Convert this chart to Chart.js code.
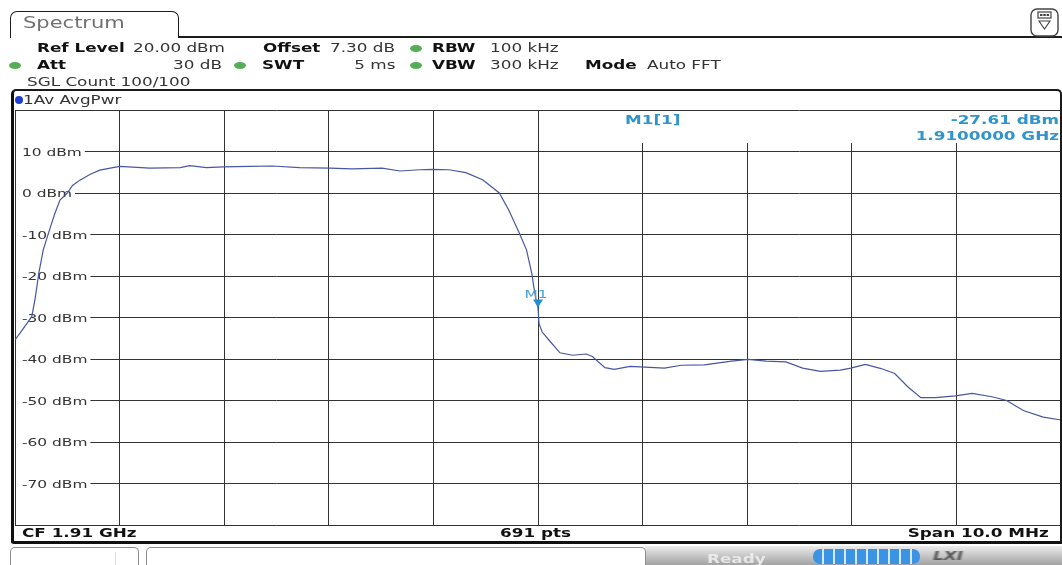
<!DOCTYPE html>
<html>
<head>
<meta charset="utf-8">
<script src="https://cdn.jsdelivr.net/npm/chart.js@4.4.1/dist/chart.umd.min.js"></script>
<style>
  html, body { margin: 0; padding: 0; background: #fff; }
  body { width: 1062px; height: 565px; position: relative; overflow: hidden; font-family: "DejaVu Sans", sans-serif; }
  #plot { position: absolute; left: 0; top: 0; }
  .t { position: absolute; white-space: nowrap; line-height: 1; font-size: 12px; color: #333; transform-origin: 0 50%; transform: scaleX(1.4); z-index: 3; }
  .t.r { transform-origin: 100% 50%; }
  .b { font-weight: bold; color: #111; }
  .dot { position: absolute; width: 12px; height: 7px; border-radius: 50%; background: #55ad55; z-index: 3; }
  #tab { position: absolute; left: 10px; top: 11px; width: 167px; height: 26px; border: 1.6px solid #1c1c1c; border-bottom: none; border-radius: 7px 7px 0 0; z-index: 2; }
  #tabline { position: absolute; left: 178px; top: 36px; width: 884px; height: 2px; background: #1c1c1c; z-index: 2; }
  #frame { position: absolute; left: 11px; top: 89px; width: 1046px; height: 450px; border-top: 2px solid #1a1a1a; border-left: 3px solid #111; border-bottom: 3px solid #111; border-right: 2px solid #1a1a1a; border-radius: 5px 5px 0 3px; z-index: 2; pointer-events: none; }
  #icon { position: absolute; left: 1030px; top: 8px; z-index: 3; }
  .box { position: absolute; top: 547px; height: 20px; border: 1px solid #8c8c8c; border-bottom: none; border-radius: 5px 5px 0 0; background: #fff; z-index: 2; }
  #status { position: absolute; left: 645px; top: 546px; width: 417px; height: 19px; background: linear-gradient(to bottom, #ececec, #a2a2a2); z-index: 1; }
  #busy { position: absolute; left: 813px; top: 549px; width: 107px; height: 15px; border-radius: 7px; background: repeating-linear-gradient(to right, #3a94e3 0 9.5px, #d8e8f8 9.5px 11px); z-index: 3; }
</style>
</head>
<body>
<canvas id="plot" width="1062" height="565"></canvas>

<div id="tab"></div>
<div id="tabline"></div>
<div id="frame"></div>
<svg id="icon" width="30" height="29" viewBox="0 0 30 29">
  <rect x="1" y="1" width="27" height="27" rx="6" ry="6" fill="#fff" stroke="#444" stroke-width="1.4"/>
  <rect x="8" y="4" width="13" height="6" fill="#fff" stroke="#444" stroke-width="1.2"/>
  <rect x="10" y="6" width="2.5" height="2" fill="#444"/>
  <rect x="13.3" y="6" width="2.5" height="2" fill="#444"/>
  <rect x="16.6" y="6" width="2.5" height="2" fill="#444"/>
  <path d="M9 13 L20 13 L14.5 21 Z" fill="none" stroke="#444" stroke-width="1.1"/>
</svg>

<!-- measurement settings header -->
<div class="t" style="left:23px; top:16px; font-size:15px; color:#707070;">Spectrum</div>

<div class="t b" style="left:37px; top:42px;">Ref Level</div>
<div class="t" style="left:133px; top:42px;">20.00 dBm</div>
<div class="t b" style="left:263px; top:42px;">Offset</div>
<div class="t" style="left:330px; top:42px;">7.30 dB</div>
<div class="dot" style="left:410px; top:45px;"></div>
<div class="t b" style="left:432px; top:42px;">RBW</div>
<div class="t" style="left:490px; top:42px;">100 kHz</div>

<div class="dot" style="left:9px; top:62px;"></div>
<div class="t b" style="left:37px; top:59px;">Att</div>
<div class="t r" style="right:840px; top:59px;">30 dB</div>
<div class="dot" style="left:234px; top:62px;"></div>
<div class="t b" style="left:262px; top:59px;">SWT</div>
<div class="t r" style="right:667px; top:59px;">5 ms</div>
<div class="dot" style="left:410px; top:62px;"></div>
<div class="t b" style="left:432px; top:59px;">VBW</div>
<div class="t" style="left:490px; top:59px;">300 kHz</div>
<div class="t b" style="left:585px; top:59px;">Mode</div>
<div class="t" style="left:647px; top:59px;">Auto FFT</div>

<div class="t" style="left:27px; top:76px;">SGL Count 100/100</div>

<div class="dot" style="left:15px; top:96px; width:8px; height:8px; background:#1e3fd0;"></div>
<div class="t" style="left:23px; top:94px;">1Av AvgPwr</div>

<!-- trace footer -->
<div class="t b" style="left:22px; top:527px;">CF 1.91 GHz</div>
<div class="t b" style="left:500px; top:527px;">691 pts</div>
<div class="t b r" style="right:13px; top:527px;">Span 10.0 MHz</div>

<!-- status bar -->
<div class="box" style="left:10px; width:127px;"><div style="position:absolute; left:104px; top:4px; width:1px; height:16px; background:#ddd;"></div></div>
<div class="box" style="left:146px; width:498px;"></div>
<div id="status"></div>
<div class="t b" style="left:707px; top:553px; color:#f4f4f4; opacity:0.8;">Ready</div>
<div id="busy"></div>
<div class="t b" style="left:933px; top:550px; font-style:italic; color:#555; filter:blur(0.6px);">LXI</div>

<script>
// Frequency axis (MHz) of the averaged trace and its power levels (dBm)
const freqMHz = [
  1905.00, 1905.07, 1905.16, 1905.19, 1905.23, 1905.27, 1905.33, 1905.38, 1905.43, 1905.50,
  1905.55, 1905.62, 1905.72, 1905.81, 1905.91, 1906.00, 1906.29, 1906.58, 1906.67, 1906.83,
  1906.99, 1907.24, 1907.46, 1907.72, 1908.01, 1908.22, 1908.51, 1908.68, 1908.87, 1908.99,
  1909.15, 1909.31, 1909.47, 1909.51, 1909.63, 1909.72, 1909.82, 1909.89, 1909.94, 1909.96,
  1909.98, 1910.00, 1910.01, 1910.04, 1910.11, 1910.21, 1910.33, 1910.46, 1910.52, 1910.64,
  1910.73, 1910.88, 1911.21, 1911.37, 1911.59, 1911.85, 1912.01, 1912.18, 1912.37, 1912.53,
  1912.70, 1912.89, 1912.99, 1913.13, 1913.28, 1913.41, 1913.54, 1913.66, 1913.80, 1913.99,
  1914.15, 1914.34, 1914.48, 1914.64, 1914.83, 1915.00
];
const levelDbm = [
  -35.4, -33.0, -29.8, -25.8, -19.0, -13.7, -8.9, -5.0, -1.7, 0.0,
  1.8, 3.1, 4.5, 5.5, 6.0, 6.4, 6.0, 6.1, 6.6, 6.1,
  6.3, 6.4, 6.5, 6.1, 6.0, 5.8, 6.0, 5.3, 5.6, 5.7,
  5.6, 4.9, 3.2, 2.4, 0.0, -4.1, -9.6, -13.7, -19.3, -22.6,
  -25.5, -27.61, -31.5, -33.5, -35.6, -38.5, -39.1, -38.8, -39.4, -42.1,
  -42.5, -41.8, -42.2, -41.5, -41.4, -40.5, -40.1, -40.5, -40.7, -42.2,
  -43.0, -42.7, -42.2, -41.3, -42.3, -43.5, -46.8, -49.3, -49.3, -48.9,
  -48.3, -49.1, -50.0, -52.4, -54.0, -54.7
];

// Grid divisions: 10 dB per division, 1 MHz per division
const levelTicks = [20, 10, 0, -10, -20, -30, -40, -50, -60, -70, -80];
const freqTicks = [1905, 1906, 1907, 1908, 1909, 1910, 1911, 1912, 1913, 1914, 1915];

// Marker M1 on trace 1
const markerName = 'M1';
const markerTrace = 1;
const markerFreqMHz = 1910.0;
const markerLevelDbm = -27.61;

const STRETCH = 1.4;
const FONT = '"DejaVu Sans", sans-serif';
const MARKER_BLUE = '#2f93cc';

function stretchedText(ctx, text, x, y, font, color, align) {
  ctx.save();
  ctx.font = font;
  ctx.fillStyle = color;
  ctx.textAlign = align || 'left';
  ctx.textBaseline = 'alphabetic';
  ctx.translate(x, y);
  ctx.scale(STRETCH, 1);
  ctx.fillText(text, 0, 0);
  ctx.restore();
}

// Level labels sit inside the grid, on a white patch that interrupts the grid line
const levelLabels = {
  id: 'levelLabels',
  beforeDatasetsDraw(chart) {
    const { ctx, chartArea } = chart;
    const y = chart.scales.y;
    const font = '11px ' + FONT;
    y.ticks.forEach(t => {
      if (t.value >= y.max || t.value <= y.min) return;
      const py = y.getPixelForValue(t.value);
      const label = t.value + ' dBm';
      ctx.save();
      ctx.font = font;
      const w = ctx.measureText(label).width * STRETCH;
      ctx.fillStyle = '#fff';
      ctx.fillRect(chartArea.left + 1, py - 6, 7 + w + 2, 12);
      ctx.restore();
      stretchedText(ctx, label, chartArea.left + 7, py + 4, font, '#333', 'left');
    });
  }
};

// Marker readout table at the top right of the diagram
const markerTable = {
  id: 'markerTable',
  beforeDatasetsDraw(chart) {
    const { ctx, chartArea } = chart;
    const x = chart.scales.x;
    const left = x.getPixelForValue(markerFreqMHz) + 3;
    ctx.save();
    ctx.fillStyle = '#fff';
    ctx.fillRect(left, chartArea.top + 1, chartArea.right - 1 - left, 32);
    ctx.restore();
    const font = 'bold 12px ' + FONT;
    stretchedText(ctx, markerName + '[' + markerTrace + ']', 625, chartArea.top + 14, font, MARKER_BLUE, 'left');
    stretchedText(ctx, markerLevelDbm.toFixed(2) + ' dBm', chartArea.right - 2, chartArea.top + 14, font, MARKER_BLUE, 'right');
    stretchedText(ctx, (markerFreqMHz / 1000).toFixed(7) + ' GHz', chartArea.right - 2, chartArea.top + 30, font, MARKER_BLUE, 'right');
  },
  afterDatasetsDraw(chart) {
    const { ctx } = chart;
    const px = chart.scales.x.getPixelForValue(markerFreqMHz);
    const py = chart.scales.y.getPixelForValue(markerLevelDbm);
    ctx.save();
    ctx.fillStyle = '#1f8fd2';
    ctx.beginPath();
    ctx.moveTo(px, py);
    ctx.lineTo(px - 5, py - 8);
    ctx.lineTo(px + 5, py - 8);
    ctx.closePath();
    ctx.fill();
    ctx.restore();
    stretchedText(ctx, markerName, px - 2, py - 10, '11px ' + FONT, '#4aa3d4', 'center');
  }
};

const gridStyle = { color: '#333', lineWidth: 1, drawTicks: false };

new Chart(document.getElementById('plot').getContext('2d'), {
  type: 'line',
  data: {
    datasets: [{
      label: '1Av AvgPwr',
      data: freqMHz.map((f, i) => ({ x: f, y: levelDbm[i] })),
      borderColor: '#4757a2',
      borderWidth: 1.2,
      pointRadius: 0,
      tension: 0,
      fill: false
    }]
  },
  options: {
    responsive: false,
    animation: false,
    devicePixelRatio: 1,
    layout: { padding: { left: 15, top: 110, right: 1, bottom: 40 } },
    plugins: { legend: { display: false }, tooltip: { enabled: false } },
    scales: {
      x: {
        type: 'linear', min: freqTicks[0], max: freqTicks[freqTicks.length - 1],
        afterBuildTicks: s => { s.ticks = freqTicks.map(v => ({ value: v })); },
        ticks: { display: false },
        grid: gridStyle,
        border: { display: false }
      },
      y: {
        type: 'linear', min: levelTicks[levelTicks.length - 1], max: levelTicks[0],
        afterBuildTicks: s => { s.ticks = levelTicks.map(v => ({ value: v })); },
        ticks: { display: false },
        grid: gridStyle,
        border: { display: false }
      }
    }
  },
  plugins: [levelLabels, markerTable]
});
</script>
</body>
</html>
